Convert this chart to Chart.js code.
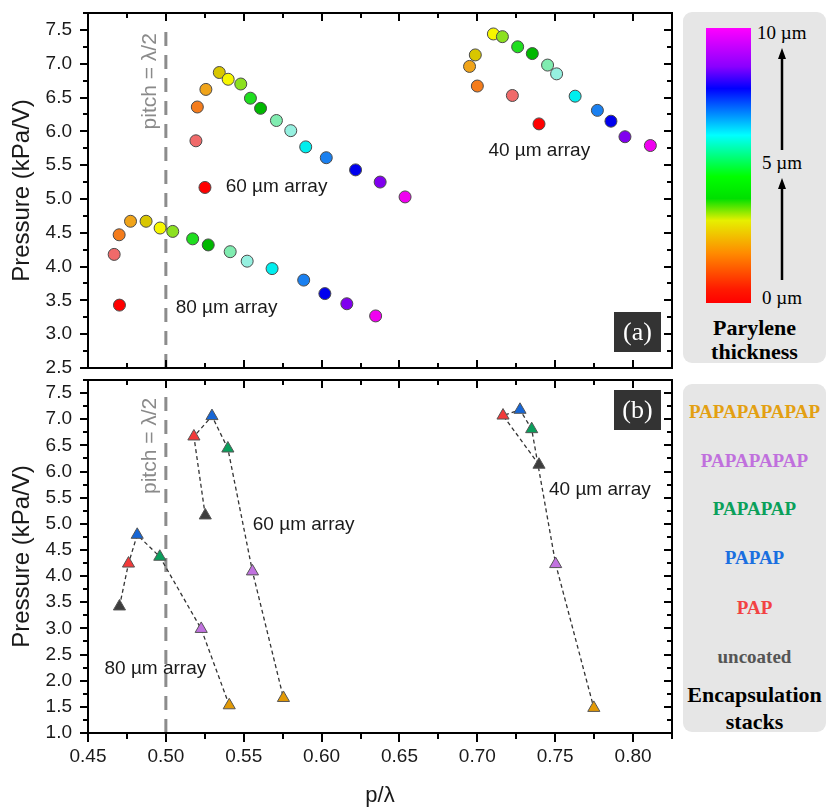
<!DOCTYPE html>
<html>
<head>
<meta charset="utf-8">
<script src="https://cdn.jsdelivr.net/npm/chart.js@4.4.0/dist/chart.umd.min.js"></script>
<style>
  body { margin: 0; background: #fff; }
  #wrap { position: relative; width: 827px; height: 807px; overflow: hidden; }
  canvas { position: absolute; left: 0; }
  #topChart { top: 0; }
  #botChart { top: 372px; }
  .ink { position: absolute; background: #000; }
  .panel { position: absolute; left: 683px; width: 143px; background: #e6e6e6; border-radius: 9px;
           font-family: "Liberation Serif", "Times New Roman", serif; }
  .panel div { position: absolute; white-space: nowrap; }
  .c { left: 0; width: 143px; text-align: center; transform: translateY(-50%); font-weight: bold; }
  .um { font-size: 19px; transform: translateY(-50%); color: #000; }
</style>
</head>
<body>
<div id="wrap">
  <canvas id="topChart" width="680" height="382"></canvas>
  <canvas id="botChart" width="680" height="435"></canvas>

  <div class="panel" style="top:12px; height:351px;">
    <div style="left:23px; top:16px; width:45px; height:275px;
      background: linear-gradient(to bottom, #ff00ff 0%, #8a00ff 14%, #0000ff 22%, #00ffff 39%, #00ff00 54%, #00e000 62%, #e6f000 70%, #ff8a00 82%, #ff1a00 95%, #ff0000 100%);"></div>
    <div class="um" style="left:74px; top:21px;">10 µm</div>
    <div class="um" style="left:79px; top:151px;">5 µm</div>
    <div class="um" style="left:79px; top:286px;">0 µm</div>
    <svg style="position:absolute; left:90px; top:30px;" width="20" height="245">
      <line x1="9" y1="238" x2="9" y2="144" stroke="#000" stroke-width="2.5"/>
      <polygon points="9,136 5,147 13,147" fill="#000"/>
      <line x1="9" y1="108" x2="9" y2="14" stroke="#000" stroke-width="2.5"/>
      <polygon points="9,6 5,17 13,17" fill="#000"/>
    </svg>
    <div class="c" style="top:316px; font-size:22px;">Parylene</div>
    <div class="c" style="top:340px; font-size:22px;">thickness</div>
  </div>

  <div class="panel" style="top:384px; height:348px;" id="stackPanel"></div>
</div>

<script>
// ---- data ----
// top panel: pressure vs p/lambda, one point per parylene thickness (0 -> 10 um)
const thicknessColors = ['#ff0000', '#f06a6a', '#f47c1c', '#f0a41a', '#d8c600', '#f6f600', '#8ce020',
  '#1fde1f', '#00b800', '#80ecb0', '#96f0e0', '#00eeee', '#1a80f0', '#0000ee', '#8000ee', '#f000f0'];

const x80 = [0.4702, 0.4668, 0.4700, 0.4773, 0.4873, 0.4963, 0.5044, 0.5172, 0.5272, 0.5413, 0.5522, 0.5682, 0.5885, 0.6021, 0.6162, 0.6347];
const y80 = [3.43, 4.18, 4.47, 4.67, 4.67, 4.57, 4.52, 4.41, 4.32, 4.22, 4.08, 3.97, 3.80, 3.60, 3.45, 3.27];
const x60 = [0.5251, 0.5193, 0.5202, 0.5257, 0.5343, 0.5400, 0.5481, 0.5543, 0.5608, 0.5710, 0.5802, 0.5898, 0.6030, 0.6218, 0.6376, 0.6536];
const y60 = [5.17, 5.86, 6.36, 6.62, 6.87, 6.77, 6.70, 6.49, 6.34, 6.16, 6.01, 5.77, 5.61, 5.43, 5.25, 5.03];
const x40 = [0.7396, 0.7225, 0.7000, 0.6950, 0.6987, 0.7103, 0.7161, 0.7259, 0.7353, 0.7451, 0.7509, 0.7628, 0.7771, 0.7858, 0.7948, 0.8111];
const y40 = [6.11, 6.53, 6.67, 6.96, 7.13, 7.44, 7.40, 7.25, 7.15, 6.98, 6.85, 6.52, 6.31, 6.15, 5.92, 5.79];

// bottom panel: one point per encapsulation stack
const stackNames = ['uncoated', 'PAP', 'PAPAP', 'PAPAPAP', 'PAPAPAPAP', 'PAPAPAPAPAP'];
const stackColors = ['#3d3d3d', '#f23a3a', '#1666d6', '#0a9f5c', '#c172df', '#e39a06'];
const stackTextColors = ['#555555', '#f24242', '#1a6fe0', '#0aa05a', '#c070dd', '#e3a012'];

const bx80 = [0.4702, 0.4760, 0.4816, 0.4961, 0.5227, 0.5407];
const by80 = [3.42, 4.24, 4.79, 4.37, 2.99, 1.53];
const bx60 = [0.5253, 0.5180, 0.5296, 0.5398, 0.5556, 0.5755];
const by60 = [5.16, 6.67, 7.06, 6.44, 4.09, 1.67];
const bx40 = [0.7396, 0.7165, 0.7274, 0.7349, 0.7503, 0.7748];
const by40 = [6.13, 7.07, 7.18, 6.81, 4.23, 1.48];

// axes
const xTicks = [0.45, 0.50, 0.55, 0.60, 0.65, 0.70, 0.75, 0.80];
const yTicksTop = [2.5, 3.0, 3.5, 4.0, 4.5, 5.0, 5.5, 6.0, 6.5, 7.0, 7.5];
const yTicksBot = [1.0, 1.5, 2.0, 2.5, 3.0, 3.5, 4.0, 4.5, 5.0, 5.5, 6.0, 6.5, 7.0, 7.5];
const xMin = 0.45, xMax = 0.825;
const pitchX = 0.5;   // pitch = lambda/2

// annotations, in data units
const topNotes = [
  { text: '60 µm array', x: 0.5384, y: 5.18 },
  { text: '80 µm array', x: 0.5063, y: 3.39 },
  { text: '40 µm array', x: 0.7071, y: 5.71 }
];
const botNotes = [
  { text: '60 µm array', x: 0.5558, y: 4.98 },
  { text: '40 µm array', x: 0.7460, y: 5.65 },
  { text: '80 µm array', x: 0.4606, y: 2.23 }
];

const SANS = '"Liberation Sans", Arial, sans-serif';
const pts = (xs, ys) => xs.map((x, i) => ({ x, y: ys[i] }));

// stack legend panel
const stackPanel = document.getElementById('stackPanel');
const stackRows = [28, 77, 125, 174, 224, 273];
for (let i = stackNames.length - 1; i >= 0; i--) {
  const d = document.createElement('div');
  d.className = 'c';
  d.textContent = stackNames[i];
  d.style.top = stackRows[stackNames.length - 1 - i] + 'px';
  d.style.color = stackTextColors[i];
  d.style.fontSize = '19px';
  stackPanel.appendChild(d);
}
['Encapsulation', 'stacks'].forEach((t, i) => {
  const d = document.createElement('div');
  d.className = 'c';
  d.textContent = t;
  d.style.top = (311 + i * 27) + 'px';
  d.style.fontSize = '22px';
  d.style.color = '#000';
  stackPanel.appendChild(d);
});

// ---- plugins ----
function minorsOf(ticks, max) {
  const step = ticks[1] - ticks[0];
  return ticks.map(t => t + step / 2).filter(m => m <= max + 1e-9);
}

// (a) / (b) tag
const tagPlugin = {
  id: 'tag',
  afterDraw(chart, args, opts) {
    const { ctx, chartArea: a } = chart;
    const w = 47, h = 40;
    const bx = a.right - 11 - w;
    const by = opts.atTop ? a.top + 10 : a.bottom - 16 - h;
    ctx.save();
    ctx.fillStyle = '#333';
    ctx.fillRect(bx, by, w, h);
    ctx.fillStyle = '#fff';
    ctx.font = '26px "Liberation Serif", serif';
    ctx.textAlign = 'center';
    ctx.textBaseline = 'middle';
    ctx.fillText(opts.text, bx + w / 2, by + h / 2 + 1);
    ctx.restore();
  }
};

const notesPlugin = {
  id: 'notes',
  afterDatasetsDraw(chart, args, opts) {
    const { ctx, scales: { x, y } } = chart;
    ctx.save();
    ctx.font = '19px ' + SANS;
    ctx.fillStyle = '#1a1a1a';
    ctx.textBaseline = 'middle';
    ctx.textAlign = 'left';
    opts.notes.forEach(n => ctx.fillText(n.text, x.getPixelForValue(n.x), y.getPixelForValue(n.y)));
    // rotated pitch label
    ctx.translate(x.getPixelForValue(opts.pitchLabel.x), y.getPixelForValue(opts.pitchLabel.y));
    ctx.rotate(-Math.PI / 2);
    ctx.textAlign = 'center';
    ctx.fillStyle = '#8a8a8a';
    ctx.font = '21px ' + SANS;
    ctx.fillText('pitch = λ/2', 0, 0);
    ctx.restore();
  }
};

// box and mirrored ticks, laid over the canvas from the chart's own scales
function addFrame(chart, canvasTop, yTicks, bottomOut) {
  const wrap = document.getElementById('wrap');
  const a = chart.chartArea, x = chart.scales.x, y = chart.scales.y;
  const bar = (l, t, w, h) => {
    const d = document.createElement('div');
    d.className = 'ink';
    d.style.left = l + 'px'; d.style.top = (t + canvasTop) + 'px';
    d.style.width = w + 'px'; d.style.height = h + 'px';
    wrap.appendChild(d);
  };
  const L = Math.round(a.left), R = Math.round(a.right), T = Math.round(a.top), B = Math.round(a.bottom);
  const bw = 2.5, tw = 2;
  bar(L - bw / 2, T - bw / 2, R - L + bw, bw);
  bar(L - bw / 2, B - bw / 2, R - L + bw, bw);
  bar(L - bw / 2, T - bw / 2, bw, B - T + bw);
  bar(R - bw / 2, T - bw / 2, bw, B - T + bw);

  const xt = xTicks.map(v => [v, 8]).concat(minorsOf(xTicks, xMax).map(v => [v, 5]));
  xt.forEach(([v, len]) => {
    const px = x.getPixelForValue(v);
    bar(px - tw / 2, T, tw, len);
    if (bottomOut) bar(px - tw / 2, B, tw, len + 1);
    else bar(px - tw / 2, B - len, tw, len);
  });
  const yt = yTicks.map(v => [v, 8]).concat(minorsOf(yTicks, y.max).map(v => [v, 5]));
  yt.forEach(([v, len]) => {
    const py = y.getPixelForValue(v);
    bar(L - len, py - tw / 2, len, tw);
    bar(R - len, py - tw / 2, len, tw);
  });
}

function yScale(min, max, ticks) {
  return {
    type: 'linear', min, max,
    grid: { display: false }, border: { display: false },
    afterBuildTicks: s => { s.ticks = ticks.map(v => ({ value: v })); },
    ticks: { autoSkip: false, padding: 8, color: '#1a1a1a', font: { size: 19, family: SANS }, callback: v => v.toFixed(1) },
    title: { display: true, text: 'Pressure (kPa/V)', color: '#1a1a1a', font: { size: 24, family: SANS }, padding: { top: 8 } },
    afterFit: s => { s.width = 88; s.paddingTop = 0; s.paddingBottom = 0; }
  };
}

function pitchDataset(y0, y1) {
  return {
    type: 'line', data: [{ x: pitchX, y: y0 }, { x: pitchX, y: y1 }],
    borderColor: '#8c8c8c', borderWidth: 3, borderDash: [14, 9], pointRadius: 0, order: 10
  };
}

function circleSet(xs, ys) {
  return {
    data: pts(xs, ys), pointRadius: 6, pointHoverRadius: 6,
    pointBackgroundColor: thicknessColors, pointBorderColor: '#4a4a4a', pointBorderWidth: 1
  };
}

function stackSet(xs, ys) {
  return {
    data: pts(xs, ys), showLine: true, borderColor: '#333', borderWidth: 1.3, borderDash: [4, 3],
    pointStyle: 'triangle', pointRadius: 7, pointHoverRadius: 7,
    pointBackgroundColor: stackColors, pointBorderColor: '#555', pointBorderWidth: 1
  };
}

Chart.defaults.font.family = SANS;

const topChart = new Chart(document.getElementById('topChart'), {
  type: 'scatter',
  data: { datasets: [pitchDataset(2.5, 7.5), circleSet(x80, y80), circleSet(x60, y60), circleSet(x40, y40)] },
  options: {
    responsive: false, animation: false, devicePixelRatio: 1,
    layout: { padding: { top: 13, right: 8, left: 0, bottom: 0 } },
    plugins: {
      legend: { display: false }, tooltip: { enabled: false },
      tag: { text: '(a)', atTop: false },
      notes: { notes: topNotes, pitchLabel: { x: 0.4899, y: 6.74 } }
    },
    scales: {
      x: {
        type: 'linear', min: xMin, max: xMax,
        grid: { display: false }, border: { display: false },
        ticks: { display: false },
        afterFit: s => { s.height = 14; s.paddingLeft = 0; s.paddingRight = 0; }
      },
      y: yScale(2.5, 7.75, yTicksTop)
    }
  },
  plugins: [tagPlugin, notesPlugin]
});

const botChart = new Chart(document.getElementById('botChart'), {
  type: 'scatter',
  data: { datasets: [pitchDataset(1.0, 7.5), stackSet(bx80, by80), stackSet(bx60, by60), stackSet(bx40, by40)] },
  options: {
    responsive: false, animation: false, devicePixelRatio: 1,
    layout: { padding: { top: 6, right: 8, left: 0, bottom: 0 } },
    plugins: {
      legend: { display: false }, tooltip: { enabled: false },
      tag: { text: '(b)', atTop: true },
      notes: { notes: botNotes, pitchLabel: { x: 0.4899, y: 6.49 } }
    },
    scales: {
      x: {
        type: 'linear', min: xMin, max: xMax,
        grid: { display: false }, border: { display: false },
        afterBuildTicks: s => { s.ticks = xTicks.map(v => ({ value: v })); },
        ticks: { autoSkip: false, padding: 4, color: '#1a1a1a', font: { size: 19, family: SANS }, callback: v => v.toFixed(2) },
        title: { display: true, text: 'p/λ', color: '#1a1a1a', font: { size: 22, family: SANS, lineHeight: 1 }, padding: { bottom: 0 } },
        afterFit: s => { s.height = 74; s.paddingLeft = 0; s.paddingRight = 0; }
      },
      y: yScale(1.0, 7.75, yTicksBot)
    }
  },
  plugins: [tagPlugin, notesPlugin]
});

addFrame(topChart, 0, yTicksTop, false);
addFrame(botChart, 372, yTicksBot, true);
</script>
</body>
</html>
